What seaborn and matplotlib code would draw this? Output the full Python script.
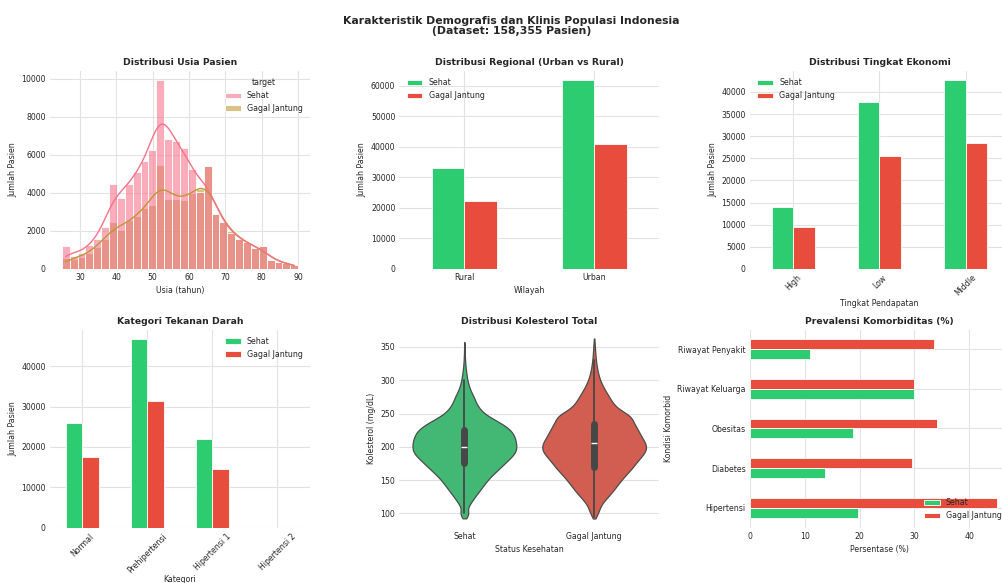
import numpy as np
import pandas as pd
import matplotlib
matplotlib.use("Agg")
import matplotlib.pyplot as plt
import seaborn as sns

# ---------------- data ----------------
status_labels = ["Sehat", "Gagal Jantung"]
total_pasien = 158355

# age histogram: counts per bin (30 bins from 25 to 90 years)
age_range = (25, 90)
age_bins = 30
age_sehat = [1200, 700, 855, 1250, 1600, 2200, 4480, 3730, 4480, 5100,
             5650, 6230, 9900, 6840, 6720, 6370, 5270, 4050, 5400, 2900,
             2480, 1880, 1600, 1400, 1100, 1200, 470, 380, 300, 210]
age_gagal = [600, 500, 650, 855, 1170, 1550, 2480, 2040, 2560, 2770,
             3210, 3350, 5480, 3700, 3700, 3600, 4000, 4200, 5400, 2900,
             2480, 1980, 1600, 1400, 1100, 1200, 470, 380, 300, 210]

# regional distribution
wilayah = ["Rural", "Urban"]
wilayah_sehat = [32900, 61700]
wilayah_gagal = [22300, 41000]

# income level
ekonomi = ["High", "Low", "Middle"]
ekonomi_sehat = [14100, 37800, 42600]
ekonomi_gagal = [9600, 25500, 28400]

# blood pressure category
tekanan = ["Normal", "Prehipertensi", "Hipertensi 1", "Hipertensi 2"]
tekanan_sehat = [26000, 46800, 21900, 0]
tekanan_gagal = [17400, 31400, 14600, 0]

# total cholesterol: relative frequency per 5 mg/dL level
kolesterol_level = [95, 100, 105, 110, 115, 120, 125, 130, 135, 140,
                    145, 150, 155, 160, 165, 170, 175, 180, 185, 190,
                    195, 200, 205, 210, 215, 220, 225, 230, 235, 240,
                    245, 250, 255, 260, 265, 270, 275, 280, 285, 290,
                    295, 300, 305, 310, 315, 320, 325, 330, 335, 340,
                    345, 350, 355, 360]
kolesterol_sehat = [3, 5, 3, 3.5, 6, 8, 10.5, 13, 15.5, 18,
                    20.5, 23, 26, 29.5, 33, 36.5, 40, 43.5, 47, 50,
                    51.5, 52, 51.5, 51, 50, 48.5, 46, 42, 37, 31,
                    25, 20, 16.5, 14, 12, 10.5, 9.5, 7.5, 6, 4.8,
                    3.8, 3, 2.5, 2, 1.6, 1.2, 0.9, 0.7, 0.5, 0.4,
                    0.3, 0.25, 0.2, 0]
kolesterol_gagal = [2, 4, 5, 6, 8, 10.5, 14, 16.5, 19.5, 22,
                    24.5, 27, 30, 33, 36, 39, 41.5, 44, 47, 50,
                    52, 52.5, 51.5, 49.5, 47.5, 45.5, 44, 42, 40, 38.5,
                    37.5, 33, 26, 22, 19, 17, 15, 13, 11, 9,
                    7.5, 6, 5, 4, 3.3, 2.7, 2.2, 1.8, 1.5, 1.2,
                    1, 0.8, 0.6, 0.4]

# comorbidity prevalence (%)
komorbid = ["Riwayat Penyakit", "Riwayat Keluarga", "Obesitas", "Diabetes", "Hipertensi"]
komorbid_sehat = [11.0, 29.9, 18.8, 13.6, 19.7]
komorbid_gagal = [33.5, 30.0, 34.1, 29.5, 45.0]

# ---------------- style ----------------
sns.set_theme(style="whitegrid")
plt.rcParams.update({
    "font.family": ["DejaVu Sans"],
    "axes.spines.left": False, "axes.spines.right": False,
    "axes.spines.top": False, "axes.spines.bottom": False,
    "grid.color": "#e2e2e2", "grid.linewidth": 0.8,
    "legend.frameon": False,
    "xtick.labelsize": 5.6, "ytick.labelsize": 5.6,
    "axes.labelsize": 5.6, "axes.titlesize": 6.7,
    "legend.fontsize": 5.7, "legend.title_fontsize": 5.7,
    "xtick.major.size": 0, "ytick.major.size": 0,
    "xtick.major.pad": 3, "ytick.major.pad": 3,
    "axes.labelpad": 3,
})

colors = {"Sehat": "#2ecc71", "Gagal Jantung": "#e74c3c"}
husl = sns.color_palette("husl", 6)

W, H = 1003, 583
fig = plt.figure(figsize=(W / 100, H / 100), dpi=100)


def add_axes(left, top, right, bottom):
    return fig.add_axes([left / W, 1 - bottom / H, (right - left) / W, (bottom - top) / H])


cols = [(50, 310), (399.5, 659), (750, 1009)]
rows = [(71, 269), (329.5, 527.5)]
axes = [[add_axes(c[0], r[0], c[1], r[1]) for c in cols] for r in rows]

title_kw = dict(fontweight="bold", pad=4)


def grouped(cats, sehat, gagal, cat_name):
    return pd.DataFrame({
        cat_name: list(cats) * 2,
        "Jumlah": list(sehat) + list(gagal),
        "Status": ["Sehat"] * len(cats) + ["Gagal Jantung"] * len(cats),
    })


# 1. age distribution
ax = axes[0][0]
bin_w = (age_range[1] - age_range[0]) / age_bins
centers = age_range[0] + bin_w * (np.arange(age_bins) + 0.5)
df_age = pd.DataFrame({
    "usia": np.tile(centers, 2),
    "jumlah": age_sehat + age_gagal,
    "target": ["Sehat"] * age_bins + ["Gagal Jantung"] * age_bins,
})
sns.histplot(data=df_age, x="usia", weights="jumlah", hue="target",
             hue_order=status_labels, bins=age_bins, binrange=age_range,
             kde=True, kde_kws=dict(bw_adjust=0.38), line_kws=dict(linewidth=1),
             palette=husl[:2], alpha=0.58, edgecolor="white", linewidth=0.6, ax=ax)
sns.move_legend(ax, "upper right", frameon=False)
ax.set_title("Distribusi Usia Pasien", **title_kw)
ax.set_xlabel("Usia (tahun)")
ax.set_ylabel("Jumlah Pasien")


def bar_panel(ax, df, cat_name, title, xlabel, legend_loc, rotate=False):
    sns.barplot(data=df, x=cat_name, y="Jumlah", hue="Status",
                hue_order=status_labels, palette=colors, width=0.5,
                saturation=1, edgecolor="white", linewidth=0.6,
                errorbar=None, ax=ax)
    ax.xaxis.grid(True)
    ax.legend(loc=legend_loc, title=None)
    ax.set_title(title, **title_kw)
    ax.set_ylabel("Jumlah Pasien")
    if rotate:
        ax.tick_params(axis="x", labelrotation=45, labelsize=5.6)
        ax.set_xlabel(xlabel, labelpad=0.5)
    else:
        ax.set_xlabel(xlabel)


# 2. regional
bar_panel(axes[0][1], grouped(wilayah, wilayah_sehat, wilayah_gagal, "Wilayah"),
          "Wilayah", "Distribusi Regional (Urban vs Rural)", "Wilayah", "upper left")

# 3. income level
bar_panel(axes[0][2], grouped(ekonomi, ekonomi_sehat, ekonomi_gagal, "Ekonomi"),
          "Ekonomi", "Distribusi Tingkat Ekonomi", "Tingkat Pendapatan", "upper left",
          rotate=True)

# 4. blood pressure
bar_panel(axes[1][0], grouped(tekanan, tekanan_sehat, tekanan_gagal, "Kategori"),
          "Kategori", "Kategori Tekanan Darah", "Kategori", "upper right",
          rotate=True)

# 5. cholesterol
ax = axes[1][1]
level = np.array(kolesterol_level)
kol_rows = []
for status, freq in (("Sehat", kolesterol_sehat), ("Gagal Jantung", kolesterol_gagal)):
    counts = np.round(np.array(freq) * 20).astype(int)
    vals = np.repeat(level, counts)
    kol_rows.append(pd.DataFrame({"Status": status, "Kolesterol": vals}))
df_kol = pd.concat(kol_rows, ignore_index=True)
sns.violinplot(data=df_kol, x="Status", y="Kolesterol", hue="Status",
               order=status_labels, hue_order=status_labels, palette=colors,
               inner="box", inner_kws=dict(box_width=5, whis_width=1.3, color="#474747"),
               density_norm="width", bw_method=0.11, cut=0.5,
               linewidth=0.9, legend=False, ax=ax)
ax.set_title("Distribusi Kolesterol Total", **title_kw)
ax.set_xlabel("Status Kesehatan")
ax.set_ylabel("Kolesterol (mg/dL)")

# 6. comorbidities
ax = axes[1][2]
df_kom = pd.DataFrame({
    "Kondisi": komorbid * 2,
    "Persen": komorbid_sehat + komorbid_gagal,
    "Status": ["Sehat"] * len(komorbid) + ["Gagal Jantung"] * len(komorbid),
})
sns.barplot(data=df_kom, y="Kondisi", x="Persen", hue="Status",
            order=komorbid, hue_order=["Gagal Jantung", "Sehat"], palette=colors,
            width=0.5, saturation=1, edgecolor="white", linewidth=0.6,
            errorbar=None, orient="h", ax=ax)
ax.yaxis.grid(True)
handles, labels = ax.get_legend_handles_labels()
ax.legend(handles[::-1], labels[::-1], loc="lower right", title=None)
ax.set_title("Prevalensi Komorbiditas (%)", **title_kw)
ax.set_xlabel("Persentase (%)")
ax.set_ylabel("Kondisi Komorbid")

fig.suptitle(f"Karakteristik Demografis dan Klinis Populasi Indonesia\n(Dataset: {total_pasien:,} Pasien)",
             x=0.51, y=1 - 16 / H, va="top", fontsize=7.8, fontweight="bold", linespacing=1.05)

fig.savefig("out.png", dpi=100)
